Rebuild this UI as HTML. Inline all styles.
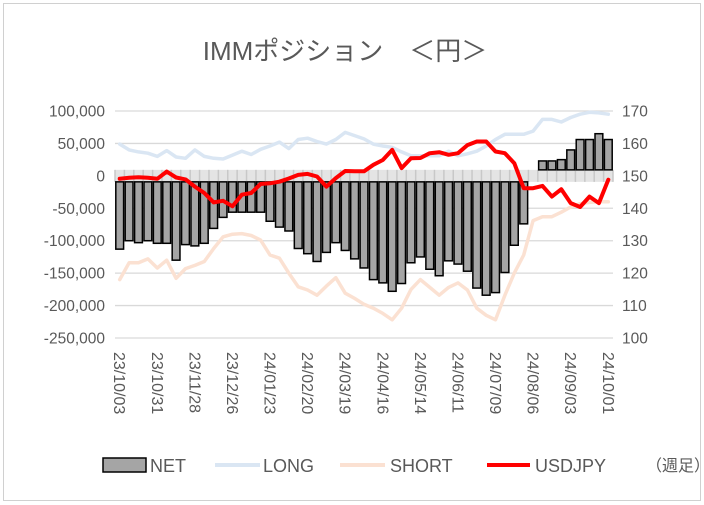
<!DOCTYPE html>
<html><head><meta charset="utf-8">
<style>
body{margin:0;background:#fff;}
svg{display:block;font-family:"Liberation Sans","Noto Sans CJK JP",sans-serif;}
</style></head>
<body>
<svg id="chart" width="704" height="505">
<rect x="3.5" y="3.5" width="697" height="497" fill="#fff" stroke="#d0d0d0"/>
<text x="345" y="60" text-anchor="middle" font-size="26" fill="#595959">IMMポジション　＜円＞</text>
<g id="grid"></g><g id="bars"></g><g id="lines"></g><g id="axes"></g>
<g>
<rect x="103" y="458" width="43" height="14" fill="#a5a5a5" stroke="#000" stroke-width="1.5"/>
<text x="150" y="472" font-size="18" fill="#595959">NET</text>
<line x1="215" y1="465" x2="260" y2="465" stroke="#dae6f3" stroke-width="4"/>
<text x="263" y="472" font-size="18" fill="#595959">LONG</text>
<line x1="340" y1="465" x2="385" y2="465" stroke="#fbe1d2" stroke-width="4"/>
<text x="390" y="472" font-size="18" fill="#595959">SHORT</text>
<line x1="487" y1="465" x2="530" y2="465" stroke="#ff0000" stroke-width="4"/>
<text x="535" y="472" font-size="18" fill="#595959">USDJPY</text>
<text x="646" y="471" font-size="16" fill="#595959">（週足）</text>
</g>
</svg>
<script>
const dateLabels=["23/10/03","23/10/31","23/11/28","23/12/26","24/01/23","24/02/20","24/03/19","24/04/16","24/05/14","24/06/11","24/07/09","24/08/06","24/09/03","24/10/01"];
const netK=[-113,-100,-103,-100,-104,-104,-130,-106,-108,-104,-81,-64,-56,-56,-56,-56,-70,-79,-85,-112,-120,-132,-118,-103,-115,-128,-142,-160,-165,-178,-166,-134,-125,-144,-154,-131,-136,-147,-173,-184,-180,-149,-107,-74,-4,23,23,25,40,56,56,65,56];
const longK=[49,40,37,35,30,39,29,27,40,30,27,26,32,38,33,41,46,52,42,56,58,53,49,56,67,62,57,49,46,44,37,31,31,31,31,38,31,34,38,46,56,64,64,64,69,87,87,83,90,95,98,97,95];
const shortK=[-160,-134,-134,-128,-142,-130,-158,-143,-138,-132,-112,-94,-90,-89,-92,-99,-122,-127,-150,-171,-176,-184,-170,-157,-181,-189,-198,-204,-212,-222,-204,-175,-160,-172,-184,-172,-165,-176,-204,-215,-222,-184,-150,-122,-69,-63,-63,-56,-48,-43,-41,-40,-40];
const usdjpy=[149.1,149.4,149.6,149.4,149.1,151.3,149.5,148.9,146.7,144.7,141.8,142.3,140.6,144.2,144.7,147.5,147.7,148.2,149.2,150.3,150.6,149.8,146.7,149.3,151.5,151.4,151.4,153.4,154.9,158,152.4,155.4,155.5,157,157.3,156.5,157,159.5,160.6,160.6,157.5,157,153.9,146.2,146.2,146.9,143.6,145.9,141.6,140.4,143.6,141.6,148.8];
const leftTicks=[100000,50000,0,-50000,-100000,-150000,-200000,-250000];
const rightTicks=[170,160,150,140,130,120,110,100];

const NS="http://www.w3.org/2000/svg";
const X0=115,X1=613,YT=111,YB=338;
const n=netK.length, pitch=(X1-X0)/n;
const yL=v=>YT+(100000-v)/350000*(YB-YT);
const yR=v=>YT+(170-v)/70*(YB-YT);
const xC=i=>X0+pitch*(i+0.5);
function mk(tag,attrs,parent){const e=document.createElementNS(NS,tag);for(const k in attrs)e.setAttribute(k,attrs[k]);document.getElementById(parent).appendChild(e);return e;}

leftTicks.forEach(v=>{
  const y=yL(v);
  if(v!==0){const l=mk('line',{x1:X0,x2:X1,y1:y,y2:y,stroke:'#d9d9d9','stroke-width':1.3},'grid');
  
  }
  const t=mk('text',{x:105,y:y+5.5,'text-anchor':'end','font-size':15.5,fill:'#595959'},'axes');
  t.textContent=v.toLocaleString('en-US');
  
  
});
rightTicks.forEach(v=>{
  const t=mk('text',{x:622,y:yR(v)+5.5,'font-size':15.5,fill:'#595959'},'axes');
  t.textContent=v;
  
  
});
const y0=yL(0);
const band=mk('rect',{x:X0,y:y0-6,width:X1-X0,height:12,fill:'#e4e4e4'},'grid');


for(let i=0;i<=n;i++){
  const tk=mk('line',{x1:X0+pitch*i,x2:X0+pitch*i,y1:y0-6,y2:y0+6,stroke:'#c8c8c8','stroke-width':1.5},'grid');
  
  
}
netK.forEach((v,i)=>{
  const val=v*1000;
  const edge=val<0?y0+6:y0-6;
  const yv=yL(val);
  if((val<0&&yv<=edge)||(val>=0&&yv>=edge))return;
  const top=Math.min(edge,yv),h=Math.abs(yv-edge);
  const r=mk('rect',{x:X0+pitch*i+0.8,y:top,width:pitch-1.6,height:h,fill:'#a5a5a5',stroke:'#000','stroke-width':1.5},'bars');
  
  
});
function line(arr,f,color,w,name){
  const d=arr.map((v,i)=>(i?'L':'M')+xC(i).toFixed(1)+','+f(v).toFixed(1)).join('');
  const p=mk('path',{d:d,fill:'none',stroke:color,'stroke-width':w,'stroke-linejoin':'round','stroke-linecap':'round'},'lines');
  
  
}
line(longK,v=>yL(v*1000),'#dae6f3',3.5,'long-line');
line(shortK,v=>yL(v*1000),'#fbe1d2',3.5,'short-line');
line(usdjpy,yR,'#ff0000',4,'usdjpy-line');
dateLabels.forEach((s,k)=>{
  const x=xC(k*4)-5.5,y=352;
  const t=mk('text',{x:x,y:y,'font-size':16,fill:'#595959',transform:`rotate(90 ${x} ${y})`},'axes');
  t.textContent=s;
  
  
});
</script>
</body></html>
